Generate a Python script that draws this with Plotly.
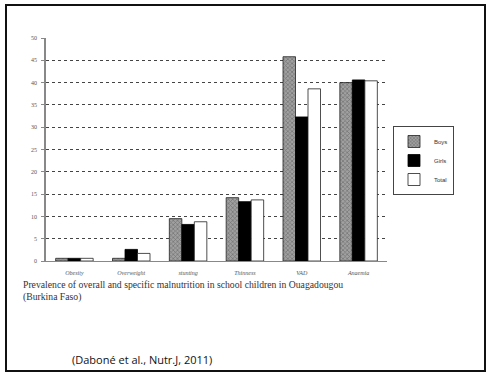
import plotly.graph_objects as go

categories = ["Obesity", "Overweight", "stunting", "Thinness", "VAD", "Anaemia"]
boys = [0.6, 0.6, 9.5, 14.2, 45.8, 40.0]
girls = [0.6, 2.6, 8.2, 13.3, 32.3, 40.6]
total = [0.6, 1.7, 8.8, 13.7, 38.6, 40.4]
y_ticks = [0, 5, 10, 15, 20, 25, 30, 35, 40, 45, 50]

W, H = 489, 375
L, R, T, B = 46, 387, 38, 261

def px_x(px):
    return (px - L) / (R - L)

def px_y(py):
    return (B - py) / (B - T)

fig = go.Figure()
fig.add_trace(go.Bar(
    x=categories, y=boys, name="Boys",
    marker=dict(color="#8a8a8a", line=dict(color="#222", width=0.8),
                pattern=dict(shape="x", fgcolor="#444", bgcolor="#a0a0a0", size=3, solidity=0.4)),
))
fig.add_trace(go.Bar(
    x=categories, y=girls, name="Girls",
    marker=dict(color="#000000", line=dict(color="#000", width=0.8)),
))
fig.add_trace(go.Bar(
    x=categories, y=total, name="Total",
    marker=dict(color="#ffffff", line=dict(color="#222", width=0.8)),
))

fig.update_layout(
    width=W, height=H,
    margin=dict(l=L, r=W - R, t=T, b=H - B),
    paper_bgcolor="white", plot_bgcolor="white",
    barmode="group", bargap=0.34, bargroupgap=0,
    font=dict(family="Liberation Serif", color="#555"),
    legend=dict(x=px_x(393), y=px_y(126), xanchor="left", yanchor="top",
                bordercolor="#444", borderwidth=1, bgcolor="white",
                font=dict(size=6, color="#333", family="Liberation Sans"),
                itemwidth=30, tracegroupgap=0),
    showlegend=True,
)
fig.update_xaxes(
    showline=True, linecolor="#888", linewidth=1,
    ticks="", tickfont=dict(size=6, style="italic", color="#555"),
    ticklabelstandoff=6,
    showgrid=False,
)
fig.update_yaxes(
    range=[0, 50], tickvals=y_ticks, showline=True, linecolor="#888", linewidth=1.5,
    ticks="outside", ticklen=3, tickcolor="#888",
    tickfont=dict(size=6, color="#555"), ticklabelstandoff=3,
    showgrid=True, gridcolor="#444", griddash="dot", gridwidth=1,
    zeroline=False,
)

# outer frame
fig.add_shape(type="rect", xref="paper", yref="paper",
              x0=px_x(6), x1=px_x(485), y0=px_y(371), y1=px_y(5),
              line=dict(color="#111", width=2), fillcolor="rgba(0,0,0,0)", layer="above")

fig.add_annotation(xref="paper", yref="paper", x=px_x(21), y=px_y(284),
                   xanchor="left", yanchor="middle", showarrow=False,
                   text="Prevalence of overall and specific malnutrition in school children in Ouagadougou",
                   font=dict(family="Liberation Serif", size=9.7, color="#333"))
fig.add_annotation(xref="paper", yref="paper", x=px_x(21), y=px_y(297),
                   xanchor="left", yanchor="middle", showarrow=False,
                   text="(Burkina Faso)",
                   font=dict(family="Liberation Serif", size=9.7, color="#333"))
fig.add_annotation(xref="paper", yref="paper", x=px_x(70), y=px_y(359),
                   xanchor="left", yanchor="middle", showarrow=False,
                   text="(Daboné et al., Nutr.J, 2011)",
                   font=dict(family="Open Sans", size=11, color="#111"))

fig.write_html("out.html", config={"displayModeBar": False},
               post_script="document.body.style.margin='0';document.body.style.padding='0';document.body.style.overflow='hidden';")
